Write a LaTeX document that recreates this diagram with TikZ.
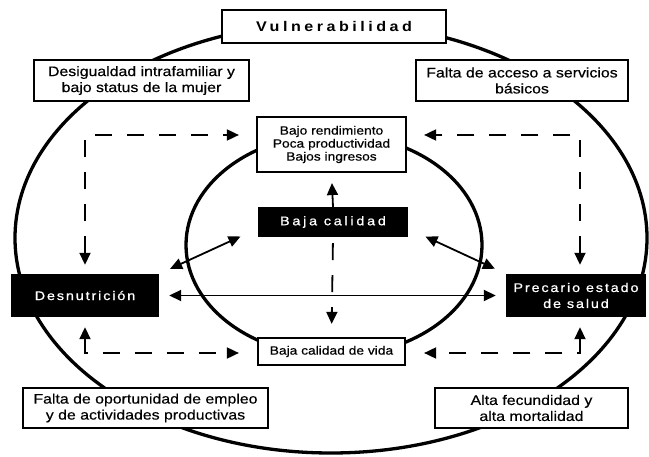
\documentclass[tikz,border=0pt]{standalone}
\usepackage{fontspec}
\setmainfont{Liberation Sans}[FakeStretch=1.15,FakeBold=0.4]
\newfontfamily\spacedfont{Liberation Sans}[FakeStretch=1.15,FakeBold=0.8,LetterSpace=15]
\newfontfamily\widerfont{Liberation Sans}[FakeStretch=1.15,FakeBold=0.8,LetterSpace=22]
\newfontfamily\titlefont{Liberation Sans}[FakeStretch=1.15,LetterSpace=25]
\usetikzlibrary{arrows.meta}
\begin{document}
\begin{tikzpicture}[x=1pt,y=-1pt,>={Triangle[length=12pt,width=11pt]},
box/.style={draw,line width=2.2pt,fill=white,inner sep=0pt,align=center,
  font=\fontsize{13.8}{16}\selectfont},
smallbox/.style={box,font=\fontsize{12}{13}\selectfont},
blackbox/.style={fill=black,text=white,inner sep=0pt,align=center,
  font=\spacedfont\fontsize{12.5}{16}\selectfont},
ring/.style={line width=3.3pt},
link/.style={line width=1.8pt},
dashlink/.style={link,dash pattern=on 17pt off 15pt}]
\useasboundingbox (0,0) rectangle (649,457);
% the two rings
\draw[ring] (331,238) ellipse [x radius=316,y radius=215];
\draw[ring] (334,245) ellipse [x radius=148,y radius=111];
% outer ring
\node[box,minimum width=224pt,minimum height=33pt,
  font=\titlefont\bfseries\fontsize{14}{16}\selectfont] (vul) at (334,26.5) {Vulnerabilidad};
\node[box,minimum width=215pt,minimum height=41pt] (desig) at (141.5,80.5)
  {Desigualdad intrafamiliar y\\bajo status de la mujer};
\node[box,minimum width=212pt,minimum height=41pt] (acceso) at (522,80.5)
  {Falta de acceso a servicios\\básicos};
\node[box,minimum width=245pt,minimum height=40pt] (oport) at (145.5,408)
  {Falta de oportunidad de empleo\\y de actividades productivas};
\node[box,minimum width=193pt,minimum height=40pt] (alta) at (531.5,408)
  {Alta fecundidad y\\alta mortalidad};
\node[blackbox,minimum width=148pt,minimum height=43pt] (desn) at (85,295.5) {Desnutrición};
\node[blackbox,minimum width=140pt,minimum height=43pt] (prec) at (576,295.5)
  {Precario estado\\de salud};
% inner ring
\node[smallbox,minimum width=149pt,minimum height=55pt] (rend) at (331.5,144.5)
  {Bajo rendimiento\\Poca productividad\\Bajos ingresos};
\node[blackbox,minimum width=150pt,minimum height=30pt,
  font=\widerfont\fontsize{12.5}{15}\selectfont] (baja) at (333,222) {Baja calidad};
\node[smallbox,minimum width=147pt,minimum height=27pt] (vida) at (331.5,351.5)
  {Baja calidad de vida};
% dashed corners
\coordinate (tl) at (85,135);
\coordinate (tr) at (580,135);
\coordinate (bl) at (85,353);
\coordinate (br) at (580,353);
\draw[dashlink,<->,shorten <=9pt,shorten >=17pt] (desn.north) -- (tl) -- (tl -| rend.west);
\draw[dashlink,<->,shorten <=9pt,shorten >=17pt] (prec.north -| tr) -- (tr) -- (tr -| rend.east);
\draw[dashlink,<->,shorten <=10pt,shorten >=18pt] (desn.south -| bl) -- (bl) -- (bl -| vida.west);
\draw[dashlink,<->,shorten <=10pt,shorten >=18pt] (prec.south -| br) -- (br) -- (br -| vida.east);
\draw[dashlink,->,shorten <=6pt,shorten >=13pt] (baja.south) -- (vida.north);
% solid links
\draw[link,->,shorten >=10pt] (baja.north) -- (rend.south);
\draw[link,<->,shorten <=19pt,shorten >=12pt] (baja.185) -- (desn.north east);
\draw[link,<->,shorten <=19pt,shorten >=12pt] (baja.355) -- (prec.north west);
\draw[link,<->,shorten <=10pt,shorten >=10pt] (desn) -- (prec);
\end{tikzpicture}
\end{document}
